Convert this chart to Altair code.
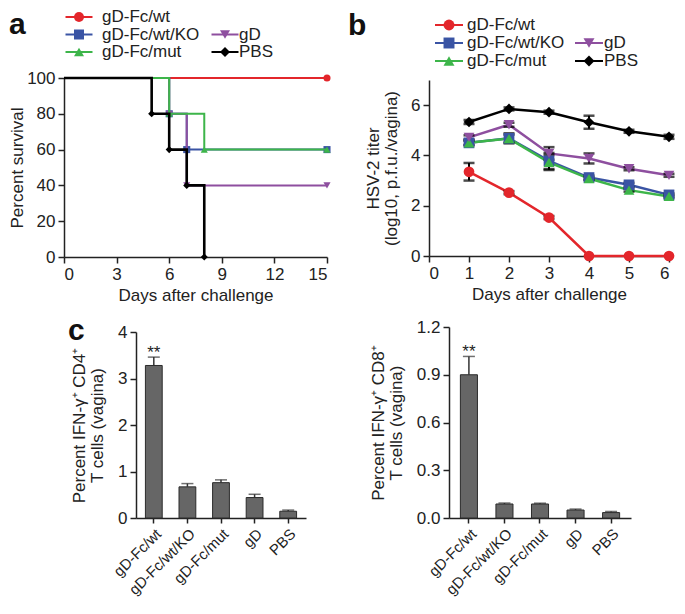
import altair as alt
import pandas as pd

FONT = "Liberation Sans, Arial, Helvetica, sans-serif"
INK = "#222222"

series = ["gD-Fc/wt", "gD-Fc/wt/KO", "gD-Fc/mut", "gD", "PBS"]
colors = ["#e3262b", "#3a54a4", "#3db54a", "#8e4f9f", "#000000"]
shapes = ["circle", "square", "triangle-up", "triangle-down", "diamond"]

# ---- panel a: survival (step curves) ----
surv_days = [[0, 15], [0, 6, 7, 15], [0, 6, 8, 15], [0, 6, 7, 15], [0, 5, 6, 7, 8]]
surv_pct = [[100, 100], [100, 80, 60, 60], [100, 80, 60, 60], [100, 80, 40, 40], [100, 80, 60, 40, 0]]
surv_ticks_x = [0, 3, 6, 9, 12, 15]
surv_ticks_y = [0, 20, 40, 60, 80, 100]

# ---- panel b: HSV-2 titer ----
titer_days = [1, 2, 3, 4, 5, 6]
titer_mean = [
    [3.35, 2.52, 1.53, 0.0, 0.0, 0.0],
    [4.50, 4.68, 3.78, 3.12, 2.83, 2.43],
    [4.50, 4.67, 3.72, 3.08, 2.62, 2.37],
    [4.72, 5.22, 4.08, 3.88, 3.47, 3.21],
    [5.33, 5.85, 5.72, 5.32, 4.96, 4.74],
]
titer_err = [
    [0.35, 0.06, 0.06, 0.0, 0.0, 0.0],
    [0.10, 0.20, 0.32, 0.08, 0.08, 0.06],
    [0.08, 0.15, 0.30, 0.06, 0.06, 0.06],
    [0.08, 0.08, 0.25, 0.20, 0.06, 0.06],
    [0.08, 0.06, 0.06, 0.26, 0.06, 0.08],
]
titer_ticks_x = [0, 1, 2, 3, 4, 5, 6]
titer_ticks_y = [0, 1, 2, 3, 4, 5, 6, 7]

# ---- panel c: IFN-gamma+ T cells ----
cd4_mean = [3.28, 0.67, 0.76, 0.44, 0.145]
cd4_err = [0.18, 0.07, 0.06, 0.07, 0.025]
cd8_mean = [0.90, 0.088, 0.088, 0.050, 0.034]
cd8_err = [0.115, 0.006, 0.005, 0.006, 0.007]
stars = ["**", "", "", "", ""]
cd4_ticks = [0, 1, 2, 3, 4]
cd8_ticks = [0, 0.3, 0.6, 0.9, 1.2]

cscale = alt.Scale(domain=series, range=colors)
sscale = alt.Scale(domain=series, range=shapes)


def letter_title(letter, dx, dy):
    return alt.TitleParams(letter, anchor="start", frame="group", fontSize=30,
                           fontWeight="bold", font=FONT, color="#111111",
                           baseline="alphabetic", offset=0, dx=dx, dy=dy)


def legend_chart(width, height, c0, c1, r0, rstep, dx0, dx1, glyph_w, msize, title):
    idx = list(range(len(series)))
    df = pd.DataFrame({
        "name": series,
        "col": [0 if i < 3 else 1 for i in idx],
        "row": [i if i < 3 else i - 2 for i in idx],
    })
    xs = alt.Scale(domain=[-c0 / (c1 - c0), (width - c0) / (c1 - c0)], nice=False, zero=False)
    ys = alt.Scale(domain=[-r0 / rstep, (height - r0) / rstep], nice=False, zero=False, reverse=True)
    x = alt.X("col:Q", scale=xs, axis=None)
    y = alt.Y("row:Q", scale=ys, axis=None)
    base = alt.Chart(df).encode(x=x, y=y)
    glyph = base.mark_point(shape="M-1,0L1,0", size=glyph_w ** 2, filled=False,
                            strokeWidth=2, opacity=1).encode(
        color=alt.Color("name:N", scale=cscale, legend=None))
    marker = base.mark_point(filled=True, size=msize, opacity=1).encode(
        color=alt.Color("name:N", scale=cscale, legend=None),
        shape=alt.Shape("name:N", scale=sscale, legend=None))
    t0 = base.mark_text(align="left", baseline="middle", dx=dx0, font=FONT,
                        fontSize=17, color=INK).encode(text="name:N").transform_filter("datum.col == 0")
    t1 = base.mark_text(align="left", baseline="middle", dx=dx1, font=FONT,
                        fontSize=17, color=INK).encode(text="name:N").transform_filter("datum.col == 1")
    return alt.layer(glyph, marker, t0, t1).properties(width=width, height=height, title=title)


# ---------- panel a ----------
WA, HA = 263, 179
xa = alt.X("day:Q", scale=alt.Scale(domain=[0, 15], nice=False),
           axis=alt.Axis(values=surv_ticks_x, title="Days after challenge", titlePadding=5))
ya = alt.Y("pct:Q", scale=alt.Scale(domain=[0, 100], nice=False),
           axis=alt.Axis(values=surv_ticks_y, title="Percent survival", titlePadding=0))
layers_a = []
for i in [0, 1, 3, 2, 4]:
    df = pd.DataFrame({"day": surv_days[i], "pct": surv_pct[i]})
    sw = 2.6 if series[i] == "PBS" else 2.0
    line = alt.Chart(df).mark_line(interpolate="step-after", color=colors[i],
                                   strokeWidth=sw).encode(x=xa, y=ya)
    pts = alt.Chart(df).transform_filter("datum.day > 0").mark_point(
        shape=shapes[i], filled=True, size=50, color=colors[i], opacity=1).encode(x=xa, y=ya)
    layers_a += [line, pts]
plot_a = alt.layer(*layers_a).properties(width=WA, height=HA)
leg_a = legend_chart(WA, 55, 15, 161, 7, 17.5, 23, 14, 27, 100, letter_title("a", -55, 56))

# ---------- panel b ----------
WB, HB = 240, 178
xb = alt.X("day:Q", scale=alt.Scale(domain=[0, 6], nice=False),
           axis=alt.Axis(values=titer_ticks_x, title="Days after challenge", titlePadding=5))
yb = alt.Y("titer:Q", scale=alt.Scale(domain=[0, 7], nice=False, range=[HB, 2]),
           axis=alt.Axis(values=titer_ticks_y, title=["HSV-2 titer", "(log10, p.f.u./vagina)"],
                         titlePadding=10, titleLineHeight=18))
rows = []
for i, s in enumerate(series):
    for d, m, e in zip(titer_days, titer_mean[i], titer_err[i]):
        rows.append({"name": s, "day": d, "titer": m, "lo": m - e, "hi": m + e, "err": e})
dfb = pd.DataFrame(rows)
lines_b, pts_b = [], []
for i, s in enumerate(series):
    sub = alt.Chart(dfb).transform_filter(alt.datum.name == s)
    lines_b.append(sub.mark_line(color=colors[i], strokeWidth=2.5).encode(x=xb, y=yb))
    pts_b.append(sub.mark_point(shape=shapes[i], filled=True, size=115, color=colors[i],
                                opacity=1).encode(x=xb, y=yb))
errb = alt.Chart(dfb).transform_filter("datum.err > 0")
err_rule = errb.mark_rule(color="#000000", strokeWidth=2).encode(x=xb, y="lo:Q", y2="hi:Q")
err_lo = errb.mark_tick(color="#000000", size=11, thickness=2.5, orient="horizontal").encode(x=xb, y="lo:Q")
err_hi = errb.mark_tick(color="#000000", size=11, thickness=2.5, orient="horizontal").encode(x=xb, y="hi:Q")
plot_b = alt.layer(*lines_b, err_rule, err_lo, err_hi, *pts_b).properties(width=WB, height=HB)
leg_b = legend_chart(WB, 55, 20, 160, 15, 18, 18, 15, 28, 120, letter_title("b", -81, 55))


# ---------- panel c ----------
HC = 248


def bar_panel(means, errs, ticks, dom_max, span_px, title_lines, width, x0, p_in, p_out, title=None):
    df = pd.DataFrame({"group": series, "value": means, "top": [m + e for m, e in zip(means, errs)],
                       "star": stars})
    xscale = alt.Scale(range=[x0, width], paddingInner=p_in, paddingOuter=p_out)
    xaxis = alt.Axis(title=None, labelAngle=-45, labelPadding=3, labelFontSize=15, tickSize=5)
    yscale = alt.Scale(domain=[0, dom_max], nice=False, range=[HC, HC - span_px])
    yaxis = alt.Axis(values=ticks, title=title_lines, titlePadding=11, titleLineHeight=18,
                     offset=-x0)

    def X():
        return alt.X("group:N", sort=series, scale=xscale, axis=xaxis)

    def Y(f):
        return alt.Y(f, type="quantitative", scale=yscale, axis=yaxis)

    base = alt.Chart(df)
    rule = base.mark_rule(color="#333333", strokeWidth=1.5).encode(x=X(), y=Y("value"), y2="top:Q")
    cap = base.mark_tick(color="#333333", size=12, thickness=1.5, orient="horizontal").encode(
        x=X(), y=Y("top"))
    bars = base.mark_bar(color="#666666", stroke="#2b2b2b", strokeWidth=1).encode(x=X(), y=Y("value"))
    txt = base.mark_text(font=FONT, fontSize=17, color=INK, baseline="alphabetic", dy=1).encode(
        x=X(), y=Y("top"), text="star:N")
    props = dict(width=width, height=HC)
    if title is not None:
        props["title"] = title
    return alt.layer(rule, cap, bars, txt).properties(**props)


c1 = bar_panel(cd4_mean, cd4_err, cd4_ticks, 4, 186, ["Percent IFN-γ⁺ CD4⁺", "T cells (vagina)"],
               242, 72, 0.5, 0.28, title=letter_title("c", 4, 100))
c2 = bar_panel(cd8_mean, cd8_err, cd8_ticks, 1.2, 191, ["Percent IFN-γ⁺ CD8⁺", "T cells (vagina)"],
               202, 20, 0.52, 0.32)

chart = alt.concat(
    leg_a, leg_b, plot_a, plot_b, c1, c2,
    columns=2, bounds="flush", align="each",
    spacing={"row": 13, "column": 102},
).properties(padding=0).configure_view(stroke=None).configure_axis(
    grid=False, domainColor=INK, domainWidth=1.5, tickColor=INK, tickWidth=1.5, tickSize=6,
    labelFont=FONT, labelFontSize=17, labelColor=INK, labelPadding=3,
    titleFont=FONT, titleFontSize=17, titleFontWeight="normal", titleColor=INK
)

chart.save("out.html", embed_options={"renderer": "svg", "actions": False})
